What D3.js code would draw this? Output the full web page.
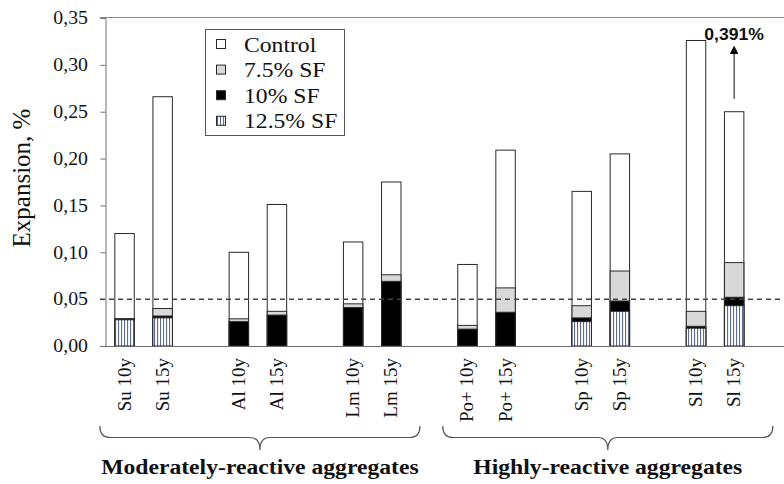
<!DOCTYPE html>
<html><head><meta charset="utf-8">
<script src="https://cdn.jsdelivr.net/npm/d3@7"></script>
<style>
html,body{margin:0;padding:0;background:#fff;}
svg{display:block;}
svg text{font-family:"Liberation Serif","Times New Roman",serif;}
svg text.sans{font-family:"Liberation Sans",Arial,sans-serif;}
</style>
</head><body>
<svg id="chart" width="784" height="484"></svg>
<script>
// ---- data ----
const categories = ["Su 10y","Su 15y","Al 10y","Al 15y","Lm 10y","Lm 15y","Po+ 10y","Po+ 15y","Sp 10y","Sp 15y","Sl 10y","Sl 15y"];
const control = [0.120, 0.266, 0.100, 0.151, 0.111, 0.175, 0.087, 0.209, 0.165, 0.205, 0.326, 0.391];
const sf75    = [0.029, 0.040, 0.029, 0.037, 0.045, 0.076, 0.022, 0.062, 0.043, 0.080, 0.037, 0.089];
const sf10    = [0.029, 0.032, 0.026, 0.033, 0.041, 0.069, 0.018, 0.036, 0.030, 0.048, 0.021, 0.052];
const sf125   = [0.028, 0.030, null, null, null, null, null, null, 0.026, 0.037, 0.019, 0.043];
const seriesNames = ["Control", "7.5% SF", "10% SF", "12.5% SF"];
const yTicks = [0, 0.05, 0.10, 0.15, 0.20, 0.25, 0.30, 0.35];
const limitValue = 0.05;
const capValue = 0.25;          // bars beyond the axis are drawn cut at this value
const groups = [
  {label: "Moderately-reactive aggregates", first: "Su 10y", last: "Lm 15y"},
  {label: "Highly-reactive aggregates", first: "Po+ 10y", last: "Sl 15y"}
];

// ---- layout ----
const svg = d3.select("#chart");
const x0 = 105.5, yTop = 18, yBase = 346;
const sx = 1.1;   // horizontal text stretch seen in the reference

// slots: two bars per aggregate, then an empty gap slot
const slots = [];
categories.forEach((c, i) => { slots.push(c); if (i % 2 === 1) slots.push("gap" + i); });
const step = 38.1;
const x = d3.scaleBand().domain(slots).range([x0, x0 + step * slots.length]).paddingInner(0.49).paddingOuter(0.245);
const y = d3.scaleLinear().domain([0, 0.35]).range([yBase, yTop]);

const defs = svg.append("defs");
const pat = defs.append("pattern").attr("id", "stripes").attr("patternUnits", "userSpaceOnUse")
  .attr("width", 3).attr("height", 10);
pat.append("rect").attr("width", 3).attr("height", 10).attr("fill", "#fff");
pat.append("rect").attr("x", 1).attr("width", 1.1).attr("height", 10).attr("fill", "#5d6b8c");

const fills = ["#ffffff", "#d9d9d9", "#000000", "url(#stripes)"];
const seriesVals = [control, sf75, sf10, sf125];
const shown = v => (v > 0.35 ? capValue : v);

function stretchedText(parent, px, py, anchor, size, txt, weight) {
  return parent.append("text")
    .attr("transform", `translate(${px},${py}) scale(${sx},1)`)
    .attr("text-anchor", anchor).style("font-size", size + "px")
    .style("font-weight", weight || "normal").attr("fill", "#111").text(txt);
}

// top frame line
svg.append("line").attr("x1", 100).attr("x2", 784).attr("y1", yTop - 0.5).attr("y2", yTop - 0.5)
  .attr("stroke", "#8a8a8a").attr("stroke-width", 1);

// y axis
const fmt = v => d3.format(".2f")(v).replace(".", ",");
const yAxis = svg.append("g").attr("transform", `translate(${x0},0)`)
  .call(d3.axisLeft(y).tickValues(yTicks).tickFormat(fmt).tickSize(5).tickPadding(12));
yAxis.attr("font-family", null);
yAxis.select(".domain").attr("stroke", "#6e6e6e");
yAxis.selectAll(".tick line").attr("stroke", "#6e6e6e");
yAxis.selectAll("text").style("font-size", "18px").attr("fill", "#111")
  .attr("x", -17.5 / sx).attr("transform", `scale(${sx},1)`);

// bars: overlapping, each drawn from zero, in series order
seriesVals.forEach((vals, s) => {
  svg.append("g").selectAll("rect")
    .data(categories.map((c, i) => ({c, v: vals[i]})).filter(d => d.v != null))
    .join("rect")
    .attr("x", d => x(d.c))
    .attr("width", x.bandwidth())
    .attr("y", d => y(shown(d.v)))
    .attr("height", d => yBase - y(shown(d.v)))
    .attr("fill", fills[s])
    .attr("stroke", "#2a2a2a").attr("stroke-width", 1);
});

// limit line
svg.append("line").attr("x1", 100).attr("x2", 784).attr("y1", y(limitValue)).attr("y2", y(limitValue))
  .attr("stroke", "#444").attr("stroke-width", 1.5).attr("stroke-dasharray", "5,4");

// baseline
svg.append("line").attr("x1", 100).attr("x2", 784).attr("y1", yBase + 0.5).attr("y2", yBase + 0.5)
  .attr("stroke", "#6e6e6e").attr("stroke-width", 1);

// cut-bar annotation
defs.append("marker").attr("id", "arrow").attr("viewBox", "0 0 10 10").attr("refX", 5).attr("refY", 5)
  .attr("markerWidth", 7).attr("markerHeight", 7).attr("orient", "auto")
  .append("path").attr("d", "M0,0 L10,5 L0,10 z").attr("fill", "#000");
categories.forEach((c, i) => {
  if (control[i] > 0.35) {
    const cx = x(c) + x.bandwidth() / 2;
    svg.append("line").attr("x1", cx).attr("x2", cx).attr("y1", y(capValue) - 13).attr("y2", y(capValue) - 62)
      .attr("stroke", "#333").attr("stroke-width", 1.2).attr("marker-end", "url(#arrow)");
    stretchedText(svg, cx, y(capValue) - 72, "middle", 16,
      d3.format(".3f")(control[i]).replace(".", ",") + "%", "bold").attr("class", "sans");
  }
});

// x labels
svg.append("g").selectAll("text").data(categories).join("text")
  .attr("transform", d => `translate(${x(d) + x.bandwidth() / 2 + 6},358) rotate(-90)`)
  .attr("text-anchor", "end").style("font-size", "19px").attr("fill", "#111")
  .text(d => d);

// braces
const bracePad = [[15, 19], [15, 29]];
groups.forEach((g, gi) => {
  const xa = x(g.first) - bracePad[gi][0], xb = x(g.last) + x.bandwidth() + bracePad[gi][1];
  const xm = (xa + xb) / 2, yt = 426, yl = 437.5, yb = 450;
  const r = 5;
  const path = `M${xa},${yt} Q${xa},${yl} ${xa + r * 2},${yl} L${xm - r * 2},${yl} Q${xm},${yl} ${xm},${yb}
    M${xb},${yt} Q${xb},${yl} ${xb - r * 2},${yl} L${xm + r * 2},${yl} Q${xm},${yl} ${xm},${yb}`;
  svg.append("path").attr("d", path).attr("fill", "none").attr("stroke", "#555").attr("stroke-width", 1.2);
  stretchedText(svg, xm, 474, "middle", 21.5, g.label, "bold");
});

// y title
svg.append("text").attr("transform", "translate(30,178) rotate(-90)").attr("text-anchor", "middle")
  .style("font-size", "25px").attr("fill", "#111").text("Expansion, %");

// legend
const lg = svg.append("g");
lg.append("rect").attr("x", 205.5).attr("y", 29.5).attr("width", 139).attr("height", 106)
  .attr("fill", "#fff").attr("stroke", "#555").attr("stroke-width", 1);
seriesNames.forEach((n, i) => {
  const cy = 44 + i * 25.6;
  lg.append("rect").attr("x", 216.5).attr("y", cy - 4.5).attr("width", 9).attr("height", 9)
    .attr("fill", fills[i]).attr("stroke", "#2a2a2a").attr("stroke-width", 1);
  stretchedText(lg, 244, cy + 7.5, "start", 21.5, n);
});
</script>
</body></html>
